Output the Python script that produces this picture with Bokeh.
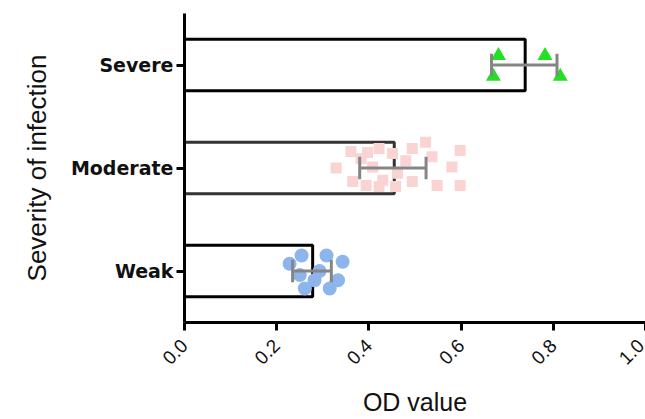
import math
from bokeh.plotting import figure
from bokeh.models import Range1d, FixedTicker, PrintfTickFormatter
from bokeh.embed import file_html
from bokeh.resources import INLINE

# ---- data ----
categories = ["Weak", "Moderate", "Severe"]
bar_means = [0.278, 0.455, 0.739]
err_center = [0.2765, 0.452, 0.737]
err_half = [0.042, 0.072, 0.071]

weak_vals = [0.228, 0.254, 0.261, 0.282, 0.308, 0.315, 0.343, 0.333, 0.250, 0.293]
weak_offsets = [0.07, 0.15, -0.17, -0.09, 0.15, -0.17, 0.09, -0.09, -0.04, 0.0]

moderate_vals = [0.329, 0.361, 0.365, 0.383, 0.397, 0.408, 0.422, 0.430, 0.451, 0.462,
                 0.480, 0.494, 0.494, 0.523, 0.537, 0.548, 0.580, 0.598, 0.598, 0.394,
                 0.422, 0.458]
moderate_offsets = [0.00, 0.16, -0.13, 0.09, 0.15, 0.01, 0.19, -0.12, 0.14, -0.05,
                    0.07, -0.13, 0.19, 0.25, 0.11, -0.17, 0.01, 0.17, -0.17, -0.17,
                    -0.18, -0.18]

severe_vals = [0.681, 0.670, 0.782, 0.815]
severe_offsets = [0.09, -0.11, 0.09, -0.11]

x_ticks = [0.0, 0.2, 0.4, 0.6, 0.8, 1.0]

# ---- figure ----
pos = {c: i + 0.5 for i, c in enumerate(categories)}
ypos = [pos[c] for c in categories]

p = figure(width=645, height=419, output_backend="svg", toolbar_location=None,
           x_range=Range1d(0, 1.0), y_range=Range1d(0, 3),
           min_border_left=184, min_border_right=0, min_border_top=13,
           min_border_bottom=94)
p.outline_line_color = None
p.xgrid.visible = False
p.ygrid.visible = False
p.background_fill_color = "white"

bar_line = ["black", "#333333", "black"]
p.hbar(y=ypos, left=0, right=bar_means, height=0.5, fill_color="white",
       line_color=bar_line, line_width=3)

p.scatter(x=weak_vals, y=[pos["Weak"] + o for o in weak_offsets], marker="circle",
          size=14, fill_color="#8db5ec", line_color=None)
p.scatter(x=moderate_vals, y=[pos["Moderate"] + o for o in moderate_offsets], marker="square",
          size=11, fill_color="#fad3d3", line_color=None)
p.scatter(x=severe_vals, y=[pos["Severe"] + o for o in severe_offsets], marker="triangle",
          size=15, fill_color="#22e022", line_color=None)

lo = [c - h for c, h in zip(err_center, err_half)]
hi = [c + h for c, h in zip(err_center, err_half)]
cap = 0.11
p.segment(x0=lo, x1=hi, y0=ypos, y1=ypos, line_color="#858585", line_width=3)
p.segment(x0=lo, x1=lo, y0=[y - cap for y in ypos], y1=[y + cap for y in ypos],
          line_color="#858585", line_width=3)
p.segment(x0=hi, x1=hi, y0=[y - cap for y in ypos], y1=[y + cap for y in ypos],
          line_color="#858585", line_width=3)

# axes
for ax in (p.xaxis[0], p.yaxis[0]):
    ax.axis_line_width = 3
    ax.axis_line_color = "black"
    ax.major_tick_line_width = 3
    ax.major_tick_line_color = "black"
    ax.major_tick_in = 0
    ax.major_tick_out = 8
    ax.minor_tick_line_color = None
    ax.axis_label_text_font = "Liberation Sans"
    ax.axis_label_text_font_style = "normal"
    ax.axis_label_text_color = "#111111"

p.xaxis.ticker = FixedTicker(ticks=x_ticks)
p.xaxis.formatter = PrintfTickFormatter(format="%.1f")
p.xaxis.major_label_orientation = math.pi / 4
p.xaxis.major_label_text_font = "Liberation Sans"
p.xaxis.major_label_text_font_size = "19px"
p.xaxis.major_label_text_color = "#111111"
p.xaxis.major_label_standoff = 12
p.xaxis.axis_label = "OD value"
p.xaxis.axis_label_text_font_size = "25px"
p.xaxis.axis_label_standoff = 15

p.yaxis.ticker = FixedTicker(ticks=ypos)
p.yaxis.major_label_overrides = {pos[c]: c for c in categories}
p.yaxis.major_label_text_font = "DejaVu Sans"
p.yaxis.major_label_text_font_style = "bold"
p.yaxis.major_label_text_font_size = "19px"
p.yaxis.major_label_text_color = "#111111"
p.yaxis.major_label_standoff = 3
p.yaxis.axis_label = "Severity of infection"
p.yaxis.axis_label_text_font_size = "26px"
p.yaxis.axis_label_standoff = 16

open("out.html", "w").write(file_html(p, INLINE))
